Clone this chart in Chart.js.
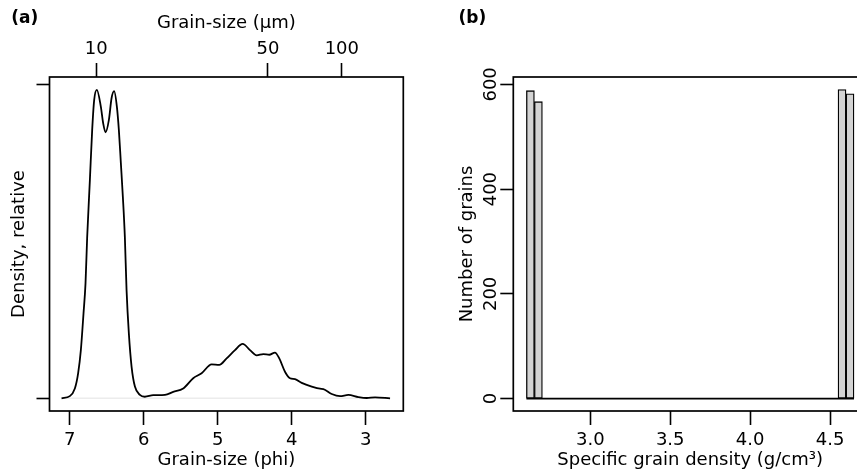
<!DOCTYPE html>
<html>
<head>
<meta charset="utf-8">
<script src="https://cdn.jsdelivr.net/npm/chart.js@4/dist/chart.umd.min.js"></script>
<style>
  html, body { margin: 0; padding: 0; background: #fff; overflow: hidden; width: 857px; height: 471px; }
  #ca { position: absolute; left: 0; top: 0; }
  #cb { position: absolute; left: 430px; top: 0; }
</style>
</head>
<body>
<canvas id="ca" width="430" height="471"></canvas>
<canvas id="cb" width="470" height="471"></canvas>
<script>
// ---------- data: panel (a) ----------
const phiTicks = [7, 6, 5, 4, 3];
const micronTicks = [10, 50, 100];
const densityPhi = [7.112, 7.000, 6.932, 6.888, 6.851, 6.815, 6.788, 6.766, 6.729, 6.698,
  6.671, 6.635, 6.581, 6.549, 6.517, 6.472, 6.436, 6.401, 6.364, 6.337,
  6.310, 6.283, 6.256, 6.233, 6.202, 6.165, 6.120, 6.053, 5.986, 5.873,
  5.714, 5.602, 5.467, 5.332, 5.218, 5.083, 4.980, 4.880, 4.767, 4.663,
  4.564, 4.474, 4.384, 4.303, 4.226, 4.168, 4.091, 4.023, 3.955, 3.865,
  3.729, 3.617, 3.572, 3.459, 3.346, 3.234, 3.099, 2.985, 2.873, 2.670];
const densityRel = [0.000, 0.007, 0.032, 0.081, 0.156, 0.275, 0.372, 0.519, 0.706, 0.868,
  0.965, 0.998, 0.944, 0.890, 0.861, 0.901, 0.971, 0.994, 0.944, 0.868,
  0.761, 0.652, 0.522, 0.350, 0.210, 0.102, 0.038, 0.011, 0.005, 0.010,
  0.011, 0.021, 0.032, 0.065, 0.081, 0.110, 0.108, 0.129, 0.156, 0.176,
  0.156, 0.139, 0.143, 0.141, 0.148, 0.129, 0.086, 0.065, 0.062, 0.050,
  0.038, 0.031, 0.030, 0.014, 0.007, 0.011, 0.004, 0.001, 0.003, 0.000];
const densityYTicks = [0, 1.016];
const baselinePhi = [7.112, 2.670];

// ---------- data: panel (b) ----------
const binCenters = [2.625, 2.675, 2.725, 2.775, 2.825, 2.875, 2.925, 2.975, 3.025, 3.075,
  3.125, 3.175, 3.225, 3.275, 3.325, 3.375, 3.425, 3.475, 3.525, 3.575,
  3.625, 3.675, 3.725, 3.775, 3.825, 3.875, 3.925, 3.975, 4.025, 4.075,
  4.125, 4.175, 4.225, 4.275, 4.325, 4.375, 4.425, 4.475, 4.525, 4.575, 4.625];
const grainCounts = [588, 567, 0, 0, 0, 0, 0, 0, 0, 0,
  0, 0, 0, 0, 0, 0, 0, 0, 0, 0,
  0, 0, 0, 0, 0, 0, 0, 0, 0, 0,
  0, 0, 0, 0, 0, 0, 0, 0, 0, 590, 582];
const binEdgeRange = [2.60, 4.65];
const gdTicks = [3.0, 3.5, 4.0, 4.5];
const countTicks = [0, 200, 400, 600];

// ---------- styling ----------
Chart.defaults.font.family = "'DejaVu Sans', sans-serif";
Chart.defaults.color = '#000';
const FS = 18;
const font = { family: "'DejaVu Sans', sans-serif", size: FS, lineHeight: 1.2 };
const titleFont = { family: "'DejaVu Sans', sans-serif", size: 17, weight: 'bold', lineHeight: 1.2 };
const tickGrid = (len) => ({ display: true, offset: false, drawOnChartArea: false, drawTicks: true, tickLength: len, tickWidth: 1.6, tickColor: '#000' });

const framePlugin = {
  id: 'frame',
  afterDatasetsDraw(chart) {
    const a = chart.chartArea, ctx = chart.ctx;
    ctx.save();
    ctx.strokeStyle = '#000';
    ctx.lineWidth = 1.7;
    ctx.strokeRect(a.left, a.top, a.right - a.left, a.bottom - a.top);
    ctx.restore();
  }
};

const common = {
  responsive: false, animation: false, devicePixelRatio: 1,
  events: [],
};

// ---------- panel (a) ----------
new Chart(document.getElementById('ca'), {
  type: 'line',
  data: {
    datasets: [
      {
        data: densityPhi.map((p, i) => ({ x: p, y: densityRel[i] })),
        borderColor: '#000', borderWidth: 1.8, pointRadius: 0,
        cubicInterpolationMode: 'monotone', fill: false
      },
      {
        data: baselinePhi.map(p => ({ x: p, y: 0 })),
        borderColor: '#ececec', borderWidth: 1.5, pointRadius: 0, fill: false
      }
    ]
  },
  options: Object.assign({}, common, {
    layout: { padding: { left: 11.3, right: 26.7, top: 0, bottom: 0 } },
    plugins: {
      legend: { display: false }, tooltip: { enabled: false },
      title: { display: true, text: '(a)', align: 'start', font: titleFont, color: '#000', padding: { top: 8.4, bottom: -20 } }
    },
    scales: {
      x: {
        type: 'linear', position: 'bottom', reverse: true, min: 2.491, max: 7.275, offset: false,
        afterBuildTicks: s => { s.ticks = phiTicks.map(v => ({ value: v })); },
        afterFit: s => { s.height = 60; },
        ticks: { font, color: '#000', padding: 4.5, maxRotation: 0, autoSkip: false, callback: v => String(v) },
        grid: tickGrid(14), border: { display: false },
        title: { display: true, text: 'Grain-size (phi)', font, color: '#000', padding: { top: 0, bottom: 0.1 } }
      },
      x2: {
        type: 'linear', position: 'top', reverse: true, min: 2.491, max: 7.275, offset: false,
        afterBuildTicks: s => { s.ticks = micronTicks.map(um => ({ value: -Math.log2(um / 1000) })); },
        afterFit: s => { s.height = 68.2; },
        ticks: { font, color: '#000', padding: 2.4, maxRotation: 0, autoSkip: false,
          callback: v => String(Math.round(1000 * Math.pow(2, -v))) },
        grid: tickGrid(14), border: { display: false },
        title: { display: true, text: 'Grain-size (µm)', font, color: '#000', padding: { top: 3.7, bottom: 0 } }
      },
      y: {
        type: 'linear', position: 'left', min: -0.0411, max: 1.0398,
        afterBuildTicks: s => { s.ticks = densityYTicks.map(v => ({ value: v })); },
        afterFit: s => { s.width = 38.2; },
        ticks: { display: false },
        grid: tickGrid(13), border: { display: false },
        title: { display: true, text: 'Density, relative', font, color: '#000', padding: { top: -2.3, bottom: 0 } }
      }
    }
  }),
  plugins: [framePlugin]
});

// ---------- panel (b) ----------
new Chart(document.getElementById('cb'), {
  type: 'bar',
  data: {
    datasets: [
      {
        type: 'bar',
        data: binCenters.map((c, i) => ({ x: c, y: grainCounts[i] })),
        backgroundColor: '#d3d3d3', borderColor: '#000', borderWidth: 1.3, borderSkipped: false,
        barPercentage: 1.0, categoryPercentage: 1.0
      },
      {
        type: 'line',
        data: binEdgeRange.map(x => ({ x: x, y: 0 })),
        borderColor: '#000', borderWidth: 1.7, pointRadius: 0, fill: false
      }
    ]
  },
  options: Object.assign({}, common, {
    layout: { padding: { left: 28.6, right: 32.9, top: 0, bottom: 0 } },
    plugins: {
      legend: { display: false }, tooltip: { enabled: false },
      title: { display: true, text: '(b)', align: 'start', font: titleFont, color: '#000', padding: { top: 8.4, bottom: 48.2 } }
    },
    scales: {
      x: {
        type: 'linear', position: 'bottom', min: 2.518, max: 4.732, offset: false,
        afterBuildTicks: s => { s.ticks = gdTicks.map(v => ({ value: v })); },
        afterFit: s => { s.height = 60; },
        ticks: { font, color: '#000', padding: 4.5, maxRotation: 0, autoSkip: false, callback: v => Number(v).toFixed(1) },
        grid: tickGrid(14), border: { display: false },
        title: { display: true, text: 'Specific grain density (g/cm³)', font, color: '#000', padding: { top: 0, bottom: 0.1 } }
      },
      y: {
        type: 'linear', position: 'left', min: -23.6, max: 614.1,
        afterBuildTicks: s => { s.ticks = countTicks.map(v => ({ value: v })); },
        afterFit: s => { s.width = 54.7; },
        ticks: { font, color: '#000', padding: -8, minRotation: 90, maxRotation: 90, crossAlign: 'center', autoSkip: false, callback: v => String(v) },
        grid: tickGrid(13), border: { display: false },
        title: { display: true, text: 'Number of grains', font, color: '#000', padding: { top: -2.3, bottom: 0 } }
      }
    }
  }),
  plugins: [framePlugin]
});
</script>
</body>
</html>
